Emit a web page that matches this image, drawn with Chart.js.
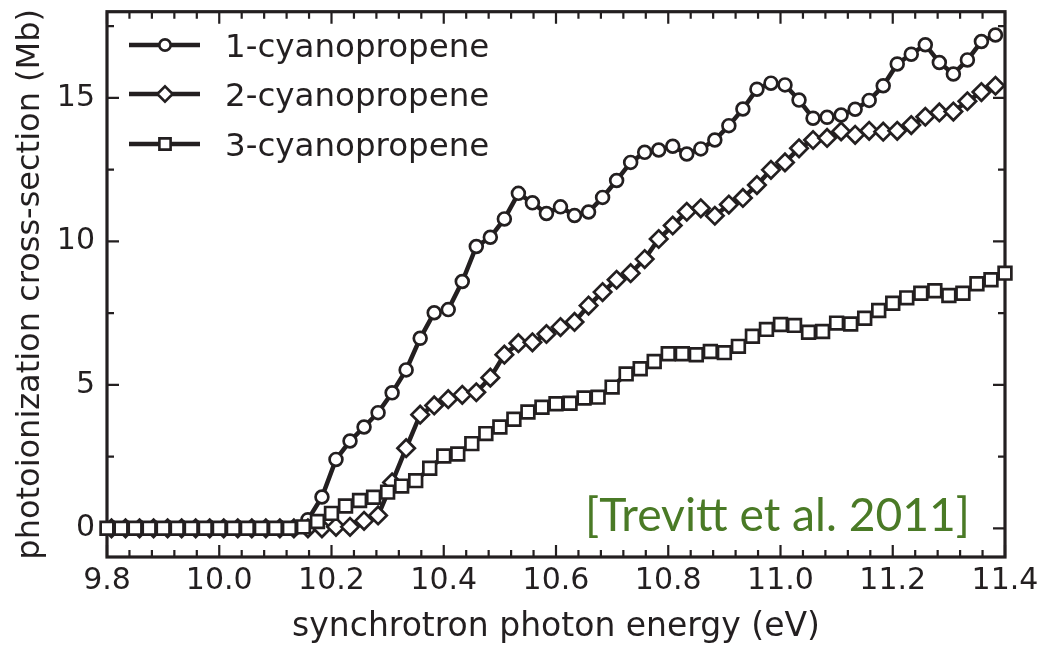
<!DOCTYPE html>
<html><head><meta charset="utf-8">
<script src="https://cdn.jsdelivr.net/npm/chart.js@4.4.1/dist/chart.umd.min.js"></script>
<style>html,body{margin:0;padding:0;background:#fff;}#wrap{width:1055px;height:647px;}</style>
</head><body><div id="wrap"><canvas id="c" width="1055" height="647"></canvas></div>
<script>
const seriesNames = ['1-cyanopropene', '2-cyanopropene', '3-cyanopropene'];
// photon energies (eV) of the 1- and 2-cyanopropene scans
const energy12 = [9.808, 9.833, 9.858, 9.883, 9.908, 9.933, 9.958, 9.983, 10.008, 10.033, 10.058, 10.083, 10.108, 10.133, 10.158, 10.183,
  10.208, 10.233, 10.258, 10.283, 10.308, 10.333, 10.358, 10.383, 10.408, 10.433, 10.458, 10.483, 10.508, 10.533, 10.558, 10.583,
  10.608, 10.633, 10.658, 10.683, 10.708, 10.733, 10.758, 10.783, 10.808, 10.833, 10.858, 10.883, 10.908, 10.933, 10.958, 10.983,
  11.008, 11.033, 11.058, 11.083, 11.108, 11.133, 11.158, 11.183, 11.208, 11.233, 11.258, 11.283, 11.308, 11.333, 11.358, 11.383];
// photon energies (eV) of the 3-cyanopropene scan
const energy3 = [9.800, 9.825, 9.850, 9.875, 9.900, 9.925, 9.950, 9.975, 10.000, 10.025, 10.050, 10.075, 10.100, 10.125, 10.150, 10.175,
  10.200, 10.225, 10.250, 10.275, 10.300, 10.325, 10.350, 10.375, 10.400, 10.425, 10.450, 10.475, 10.500, 10.525, 10.550, 10.575,
  10.600, 10.625, 10.650, 10.675, 10.700, 10.725, 10.750, 10.775, 10.800, 10.825, 10.850, 10.875, 10.900, 10.925, 10.950, 10.975,
  11.000, 11.025, 11.050, 11.075, 11.100, 11.125, 11.150, 11.175, 11.200, 11.225, 11.250, 11.275, 11.300, 11.325, 11.350, 11.375, 11.400];
// cross-sections (Mb)
const cs1 = [0, 0, 0, 0, 0, 0, 0, 0, 0, 0, 0, 0, 0, 0, 0.30, 1.09,
  2.40, 3.04, 3.53, 4.03, 4.72, 5.52, 6.62, 7.51, 7.62, 8.60, 9.82, 10.14, 10.78, 11.67, 11.34, 10.97,
  11.20, 10.90, 11.02, 11.53, 12.12, 12.75, 13.10, 13.18, 13.31, 13.04, 13.22, 13.53, 14.03, 14.61, 15.30, 15.51,
  15.45, 14.92, 14.29, 14.32, 14.40, 14.60, 14.91, 15.42, 16.18, 16.52, 16.85, 16.23, 15.83, 16.32, 16.96, 17.19];
const cs2 = [0, 0, 0, 0, 0, 0, 0, 0, 0, 0, 0, 0, 0, 0, 0, 0,
  0.05, 0.05, 0.26, 0.45, 1.60, 2.79, 3.96, 4.28, 4.50, 4.65, 4.74, 5.25, 6.05, 6.45, 6.48, 6.77,
  7.01, 7.19, 7.76, 8.23, 8.66, 8.89, 9.38, 10.08, 10.55, 11.03, 11.15, 10.89, 11.28, 11.51, 11.96, 12.49,
  12.75, 13.24, 13.53, 13.60, 13.83, 13.71, 13.85, 13.82, 13.85, 14.05, 14.34, 14.49, 14.52, 14.88, 15.20, 15.42];
const cs3 = [0, 0, 0, 0, 0, 0, 0, 0, 0, 0, 0, 0, 0, 0, 0.05, 0.24,
  0.52, 0.78, 0.97, 1.08, 1.26, 1.47, 1.66, 2.09, 2.52, 2.59, 2.95, 3.30, 3.53, 3.80, 4.05, 4.22,
  4.34, 4.36, 4.54, 4.57, 4.92, 5.38, 5.56, 5.81, 6.08, 6.08, 6.05, 6.16, 6.12, 6.34, 6.69, 6.93,
  7.10, 7.07, 6.83, 6.86, 7.15, 7.12, 7.32, 7.59, 7.84, 8.03, 8.19, 8.28, 8.11, 8.19, 8.52, 8.66, 8.89];
const xTickValues = [9.8, 10.0, 10.2, 10.4, 10.6, 10.8, 11.0, 11.2, 11.4];
const xTickLabels = ['9.8', '10.0', '10.2', '10.4', '10.6', '10.8', '11.0', '11.2', '11.4'];
const yTickValues = [0, 5, 10, 15];
const yTickLabels = ['0', '5', '10', '15'];
const xTitle = 'synchrotron photon energy (eV)';
const yTitle = 'photoionization cross-section (Mb)';
const citation = '[Trevitt et al. 2011]';

const ink = '#231f20';
const FONT = "'DejaVu Sans', sans-serif";

function pts(xs, ys) { return xs.map((e, i) => ({ x: e, y: ys[i] })); }

const frame = {
  id: 'frame',
  beforeDatasetsDraw(chart) {
    const { ctx, chartArea: a, scales: { x, y } } = chart;
    ctx.save();
    ctx.strokeStyle = ink;
    ctx.lineWidth = 2.2;
    ctx.beginPath();
    for (let i = 0; i <= 40; i++) {
      const px = x.getPixelForValue(9.8 + i * 0.04);
      const len = (i % 5 === 0) ? 12 : 7;
      ctx.moveTo(px, a.bottom); ctx.lineTo(px, a.bottom - len);
      ctx.moveTo(px, a.top); ctx.lineTo(px, a.top + len);
    }
    for (let i = 0; i <= 7; i++) {
      const py = y.getPixelForValue(i * 2.5);
      const len = (i % 2 === 0) ? 12 : 7;
      ctx.moveTo(a.left, py); ctx.lineTo(a.left + len, py);
      ctx.moveTo(a.right, py); ctx.lineTo(a.right - len, py);
    }
    ctx.stroke();
    ctx.lineWidth = 3.2;
    ctx.strokeRect(a.left, a.top, a.right - a.left, a.bottom - a.top);
    ctx.restore();
  },
  afterDraw(chart) {
    const { ctx } = chart;
    ctx.save();
    // legend inside plot
    const rows = [45, 94, 144];
    chart.data.datasets.forEach((ds, i) => {
      const yy = rows[i];
      ctx.strokeStyle = ink; ctx.lineWidth = 4.5;
      ctx.beginPath(); ctx.moveTo(129, yy); ctx.lineTo(200, yy); ctx.stroke();
      ctx.fillStyle = '#fff'; ctx.lineWidth = 2.6;
      Chart.helpers.drawPoint(ctx, { pointStyle: ds.pointStyle, radius: ds.pointRadius * 0.88, rotation: 0, borderWidth: 2.6 }, 165, yy);
      ctx.fillStyle = ink;
      ctx.font = "32.5px " + FONT;
      ctx.textBaseline = 'alphabetic';
      ctx.textAlign = 'left';
      ctx.fillText(ds.label, 225, yy + 11.5);
    });
    // citation
    ctx.font = "46px Lato, sans-serif";
    const w = ctx.measureText(citation).width;
    ctx.fillStyle = '#4a7a26';
    ctx.translate(585, 531);
    ctx.scale(385 / w, 1);
    ctx.fillText(citation, 0, 0);
    ctx.restore();
  }
};

new Chart(document.getElementById('c'), {
  type: 'line',
  data: {
    datasets: [
      { label: seriesNames[0], data: pts(energy12, cs1), pointStyle: 'circle', pointRadius: 6.4, order: 3 },
      { label: seriesNames[1], data: pts(energy12, cs2), pointStyle: 'rectRot', pointRadius: 8.7, order: 2 },
      { label: seriesNames[2], data: pts(energy3, cs3), pointStyle: 'rect', pointRadius: 9, order: 1 }
    ].map(d => Object.assign({
      borderColor: ink, borderWidth: 4.5, pointBorderWidth: 2.7, pointBorderColor: ink,
      pointBackgroundColor: '#fff', tension: 0, clip: false, fill: false
    }, d))
  },
  options: {
    responsive: false,
    animation: false,
    layout: { padding: { top: 10, right: 50, bottom: 0, left: 0 } },
    plugins: { legend: { display: false }, tooltip: { enabled: false } },
    scales: {
      x: {
        type: 'linear', min: 9.8, max: 11.4,
        grid: { display: false, drawTicks: false }, border: { display: false },
        afterBuildTicks: s => { s.ticks = xTickValues.map(v => ({ value: v })); },
        ticks: { autoSkip: false, maxRotation: 0, padding: 6, color: ink, font: { family: FONT, size: 30 },
          callback: (v, i) => xTickLabels[i] },
        title: { display: true, text: xTitle, color: ink, font: { family: FONT, size: 33 }, padding: { top: 0, bottom: 0 } },
        afterFit: s => { s.height = 90; s.paddingLeft = 0; s.paddingRight = 0; }
      },
      y: {
        type: 'linear', min: -1, max: 18,
        grid: { display: false, drawTicks: false }, border: { display: false },
        afterBuildTicks: s => { s.ticks = yTickValues.map(v => ({ value: v })); },
        ticks: { autoSkip: false, padding: 12, color: ink, font: { family: FONT, size: 30 },
          callback: (v, i) => yTickLabels[i] },
        title: { display: true, text: yTitle, color: ink, font: { family: FONT, size: 32 }, padding: { top: 11, bottom: 0 } },
        afterFit: s => { s.width = 107; s.paddingTop = 0; s.paddingBottom = 0; }
      }
    }
  },
  plugins: [frame]
});
</script></body></html>
